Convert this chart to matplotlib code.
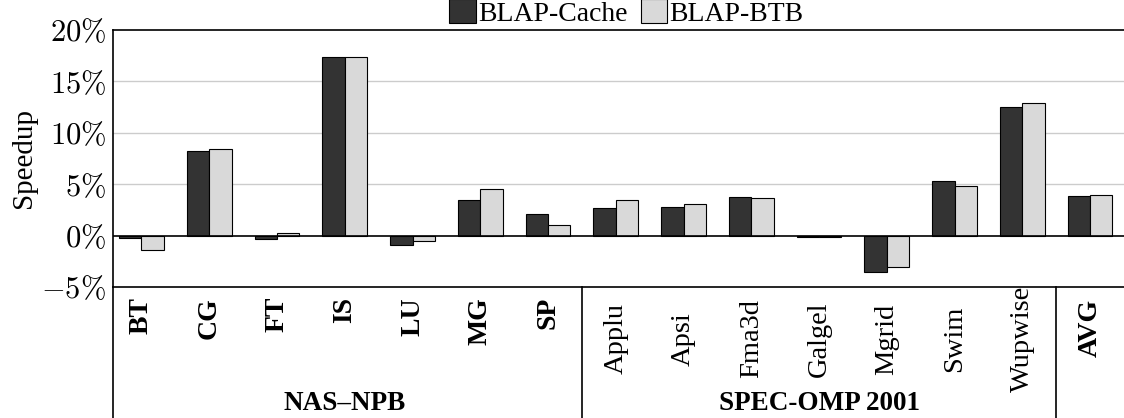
import numpy as np
import matplotlib.pyplot as plt
import matplotlib.transforms as mtransforms

# Datos (speedup en %)
nas = ['BT', 'CG', 'FT', 'IS', 'LU', 'MG', 'SP']
spec = ['Applu', 'Apsi', 'Fma3d', 'Galgel', 'Mgrid', 'Swim', 'Wupwise']
avg = ['AVG']
cache = [-0.2, 8.2, -0.3, 17.4, -0.95, 3.5, 2.1,
         2.65, 2.8, 3.8, -0.1, -3.55, 5.35, 12.5,
         3.85]
btb = [-1.4, 8.4, 0.3, 17.4, -0.5, 4.5, 1.05,
       3.45, 3.1, 3.7, -0.1, -3.05, 4.8, 12.9,
       3.95]
group_names = ['NAS–NPB', 'SPEC-OMP 2001']
yticks = [-5, 0, 5, 10, 15, 20]

plt.rcParams['mathtext.fontset'] = 'cm'
serif = 'Liberation Serif'

fig = plt.figure(figsize=(11.24, 4.18), dpi=100)
ax = fig.add_axes([113/1124, 131/418, 1 - 113/1124, 257/418])

x = np.arange(len(cache))
w = 0.33
ax.bar(x - w/2, cache, w, color='#333333', edgecolor='black', linewidth=0.8,
       label='BLAP-Cache', zorder=3)
ax.bar(x + w/2, btb, w, color='#d9d9d9', edgecolor='black', linewidth=0.8,
       label='BLAP-BTB', zorder=3)

ax.set_xlim(-0.42, len(cache) - 0.5)
ax.set_ylim(-5, 20)
ax.set_yticks(yticks)
ax.set_yticklabels([r'$%d\%%$' % v if v >= 0 else r'$-%d\%%$' % -v for v in yticks],
                   fontsize=22)
for v in yticks[2:-1]:
    ax.axhline(v, color='#cccccc', linewidth=1, zorder=1)
ax.axhline(0, color='black', linewidth=1.2, zorder=4)
ax.spines['right'].set_visible(False)
for s in ['left', 'top', 'bottom']:
    ax.spines[s].set_linewidth(1.2)
ax.tick_params(axis='y', length=0, pad=5)
ax.set_ylabel('Speedup', family=serif, fontsize=21, labelpad=3)

# Etiquetas de categoria (texto girado debajo del eje)
ax.set_xticks([])
trans = mtransforms.blended_transform_factory(ax.transData, ax.transAxes)
px = 1 / 257  # un pixel en coordenadas del eje
for i, n in enumerate(nas):
    ax.text(x[i], -10 * px, n, transform=trans, rotation=90, ha='center',
            va='top', family=serif, weight='bold', fontsize=20)
for j, n in enumerate(spec):
    ax.text(x[len(nas) + j], -52 * px, n, transform=trans, rotation=90,
            ha='center', va='center', family=serif, fontsize=20.5)
for k, n in enumerate(avg):
    ax.text(x[len(nas) + len(spec) + k], -12 * px, n, transform=trans,
            rotation=90, ha='center', va='top', family=serif, weight='bold',
            fontsize=20)

# Separadores de grupo
bottom = -131/257
for xs in [-0.42, len(nas) - 0.5, len(nas) + len(spec) - 0.5]:
    ax.plot([xs, xs], [0, bottom], color='black', linewidth=1.2,
            transform=trans, clip_on=False)
ax.text((len(nas) - 1) / 2, -0.455, group_names[0], transform=trans,
        ha='center', va='center', family=serif, weight='bold', fontsize=19.5)
ax.text(len(nas) + (len(spec) - 1) / 2, -0.455, group_names[1], transform=trans,
        ha='center', va='center', family=serif, weight='bold', fontsize=19.5)

ax.legend(loc='center', bbox_to_anchor=(0.508, 1.066), ncol=2, frameon=False,
          prop={'family': serif, 'size': 20}, handlelength=0.95,
          handleheight=0.95, handletextpad=0.1, columnspacing=0.45,
          borderaxespad=0)

fig.savefig('out.png', dpi=100)
